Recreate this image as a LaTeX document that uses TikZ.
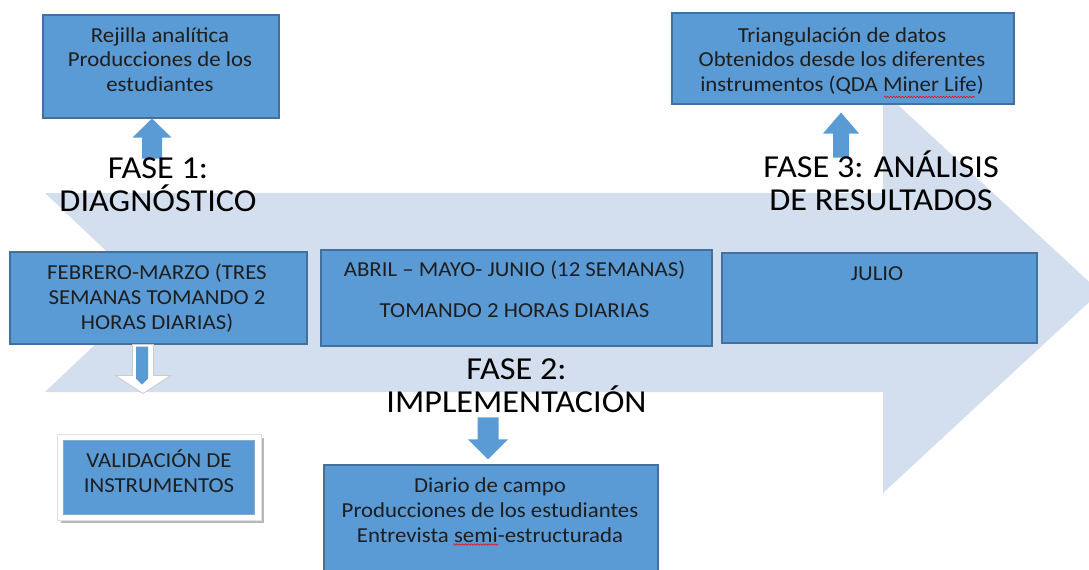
\documentclass[tikz,border=0pt]{standalone}
\usepackage{fontspec}
\setmainfont{Carlito}[FakeStretch=1.07]
\usetikzlibrary{calc, decorations.pathmorphing}

\definecolor{boxfill}{HTML}{5B9BD5}
\definecolor{boxline}{HTML}{41719C}
\definecolor{bandfill}{HTML}{D3DEEF}
\definecolor{textdark}{HTML}{1E1E1E}

\begin{document}
\begin{tikzpicture}[x=0.75pt, y=-0.75pt,
  box/.style = {rectangle, draw=boxline, fill=boxfill, line width=0.8pt, inner sep=0pt},
  boxtext/.style = {anchor=north, align=center, inner sep=0pt, text=textdark, font=\fontsize{16}{18.5}\selectfont},
  phase/.style = {anchor=north, align=center, inner sep=0pt, font=\fontsize{24}{25}\selectfont},
  blockarrow/.style = {fill=boxfill},
  hollowarrow/.style = {fill=white, draw=black!20, line width=0.6pt},
  spellmark/.style = {draw=red, line width=0.4pt, decorate, decoration={snake, segment length=2.2pt, amplitude=0.6pt}}]
  \useasboundingbox (0, 0) rectangle (1089, 569);
  \clip (0, 0) rectangle (1089, 569);

  % Timeline band.
  \fill [bandfill] (45, 193) -- (883, 193) -- (883, 91) -- (1100, 292) -- (883, 493)
                   -- (883, 392) -- (45, 392) -- (150, 292.5) -- cycle;

  % Boxes.
  \node at (161, 66.5) [box, minimum width=177pt, minimum height=77.25pt, name=Rejilla] {};
  \node at (843, 58.5) [box, minimum width=256.5pt, minimum height=68.25pt, name=Triangulacion] {};
  \node at (158.5, 298) [box, minimum width=222.75pt, minimum height=69pt, name=Febrero] {};
  \node at (516.5, 298) [box, minimum width=293.25pt, minimum height=72pt, name=Abril] {};
  \node at (879.5, 298) [box, minimum width=236.25pt, minimum height=67.5pt, name=Julio] {};
  \node at (491, 520) [box, minimum width=250.5pt, minimum height=82.5pt, name=Diario] {};

  % Framed box.
  \node at (159, 477.5) [minimum width=142.5pt, minimum height=54.75pt, inner sep=0pt, name=Validacion] {};
  \fill [black!28] ($(Validacion.north west)+(-3, -3)$) rectangle ($(Validacion.south east)+(10, 9)$);
  \filldraw [fill=white, draw=black!12] ($(Validacion.north west)+(-6, -6)$) rectangle ($(Validacion.south east)+(7, 6)$);
  \filldraw [fill=boxfill, draw=boxline!60, line width=0.5pt] (Validacion.north west) rectangle (Validacion.south east);

  % Box texts.
  \node at (160, 24.7) [boxtext, name=RejillaText] {\strut Rejilla analítica\\Producciones de los\\estudiantes};
  \node at (842, 24.7) [boxtext, name=TriangulacionText] {\strut Triangulación de datos\\Obtenidos desde los diferentes\\instrumentos (QDA Miner Life)};
  \node at (157, 262.4) [boxtext, name=FebreroText] {\strut FEBRERO-MARZO (TRES\\SEMANAS TOMANDO 2\\HORAS DIARIAS)};
  \node at (514.5, 259.4) [boxtext, name=AbrilText] {\strut ABRIL -- MAYO- JUNIO (12 SEMANAS)\\[11.7pt]TOMANDO 2 HORAS DIARIAS};
  \node at (877, 263) [boxtext, name=JulioText] {\strut JULIO};
  \node at (159, 449.4) [boxtext, name=ValidacionText] {\strut VALIDACIÓN DE\\INSTRUMENTOS};
  \node at (490, 475.4) [boxtext, name=DiarioText] {\strut Diario de campo\\Producciones de los estudiantes\\Entrevista semi-estructurada};

  % Spelling marks.
  \draw [spellmark] (884, 97) -- (975, 97);
  \draw [spellmark] (453, 544.5) -- (498, 544.5);

  % Block arrows.
  \fill [blockarrow] ($(Rejilla.south)+(-9, 0)$) -- ++(19.5, 19) -- ++(-9.5, 0) -- ++(0, 21)
                     -- ++(-20, 0) -- ++(0, -21) -- ++(-9.5, 0) -- cycle;
  \fill [blockarrow] ($(Triangulacion.south)+(-2, 8)$) -- ++(18, 21) -- ++(-10, 0) -- ++(0, 24)
                     -- ++(-16, 0) -- ++(0, -24) -- ++(-10, 0) -- cycle;
  \filldraw [hollowarrow] ($(Febrero.south)+(-15.5, 49)$) -- ++(27.5, -18) -- ++(-17, 0) -- ++(0, -31)
                          -- ++(-21, 0) -- ++(0, 31) -- ++(-17, 0) -- cycle;
  \fill [blockarrow] ($(Febrero.south)+(-22.5, 2)$) -- ++(12, 0) -- ++(0, 32) -- ++(-6, 6)
                     -- ++(-6, -6) -- cycle;
  \fill [blockarrow] ($(Diario.north)+(-3, -5)$) -- ++(20, -20) -- ++(-9.5, 0) -- ++(0, -22)
                     -- ++(-21, 0) -- ++(0, 22) -- ++(-9.5, 0) -- cycle;

  % Phases.
  \node at (158, 150.3) [phase, name=Fase1] {\rule{0pt}{21pt}FASE 1:\\DIAGNÓSTICO};
  \node at (516.5, 351) [phase, name=Fase2] {\rule{0pt}{21pt}FASE 2:\\IMPLEMENTACIÓN};
  \node at (881, 149) [phase, name=Fase3] {\rule{0pt}{21pt}FASE 3: ANÁLISIS\\DE RESULTADOS};
\end{tikzpicture}
\end{document}
